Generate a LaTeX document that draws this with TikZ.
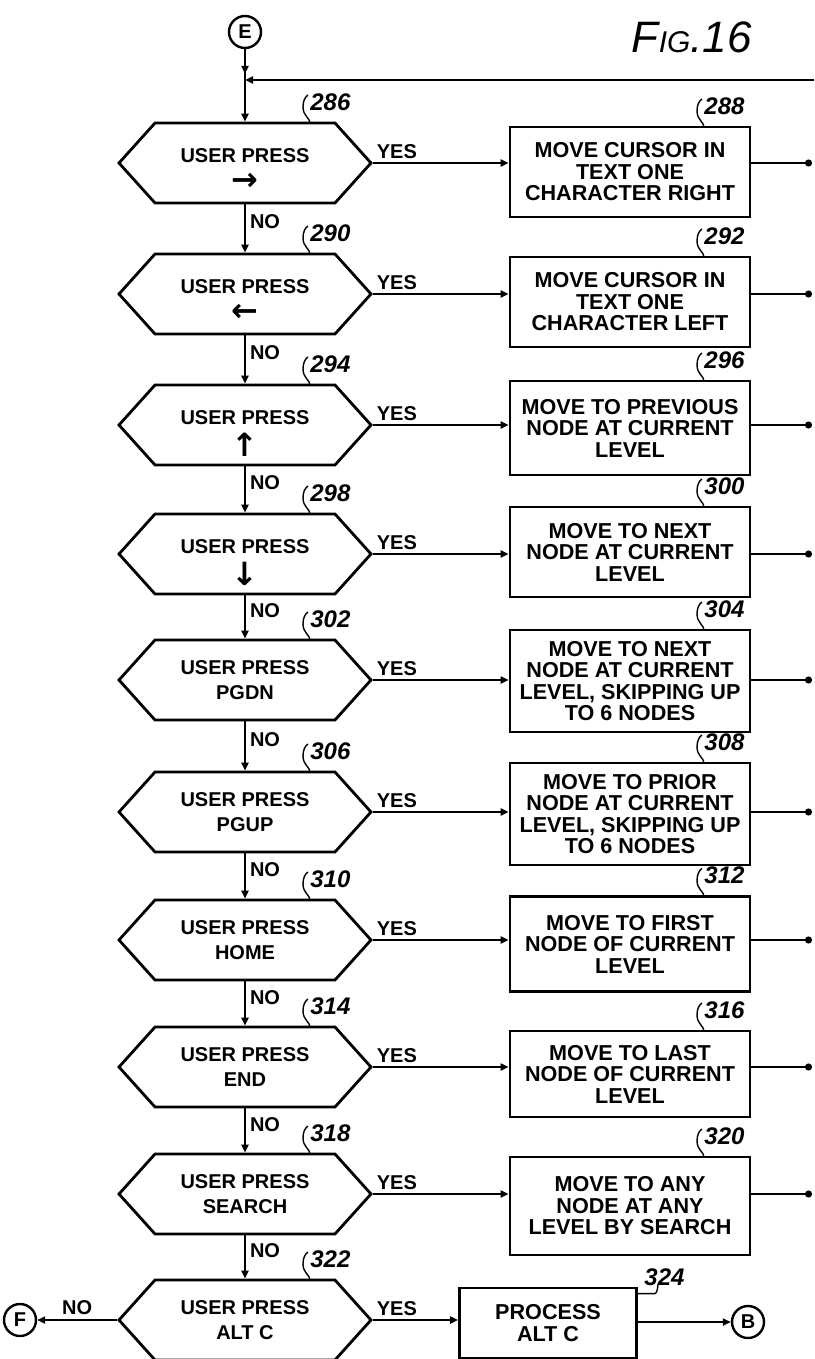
\documentclass[tikz,border=0pt]{standalone}
\usepackage{fontspec}
\setmainfont{Liberation Sans}
\newfontfamily\arrfont{DejaVu Sans}
\usetikzlibrary{shapes.symbols,arrows.meta,decorations.markings}

\def\hexx{245}
\def\boxx{630}
\def\outx{812}
\def\presskey#1#2{\raisebox{-5.5pt}{USER PRESS}\\\raisebox{#2}[4pt][0pt]{\arrfont\bfseries\fontsize{16}{16}\selectfont #1}}

\tikzset{
 decision/.style={signal, signal to=west and east, signal pointer angle=96,
  draw, line width=1.4pt, minimum width=126pt, minimum height=40pt,
  inner sep=0pt, align=center, font=\bfseries\fontsize{10}{12.5}\selectfont},
 action/.style={rectangle, draw, line width=1.4pt, minimum width=120pt,
  inner sep=0pt, align=center, font=\bfseries\fontsize{10.8}{10.75}\selectfont},
 connector/.style={circle, draw, line width=1.2pt, minimum size=16pt,
  inner sep=0pt, font=\bfseries\fontsize{10}{10}\selectfont},
 flow/.style={line width=1pt, -{Triangle[length=4pt,width=3.5pt]}},
 outflow/.style={line width=1pt, -{Circle[length=3.5pt]}},
 midarrow/.style={line width=1pt, postaction={decorate}, decoration={markings,
  mark=at position 0.8 with {\arrow{Triangle[length=4pt,width=3.5pt]}}}},
 leader/.style={line width=0.7pt},
 refnum/.style={font=\bfseries\itshape\fontsize{12}{12}\selectfont, inner sep=0pt, anchor=west},
 yeslabel/.style={font=\bfseries\fontsize{10}{10}\selectfont, inner sep=1.5pt, anchor=south west},
 nolabel/.style={font=\bfseries\fontsize{10}{10}\selectfont, inner sep=2pt, anchor=west, pos=0.36},
 figlabel/.style={font=\itshape\fontsize{22}{22}\selectfont, inner sep=0pt, anchor=base east}
}

\begin{document}
\begin{tikzpicture}[x=0.5pt,y=-0.5pt]
 \useasboundingbox (0,0) rectangle (814,1359);
 % figure title
 \node[figlabel] (fig) at (752,53) {F{\fontsize{15}{15}\selectfont IG}.16};
 % entry and return line
 \node[connector] (conE) at (\hexx,32) {E};
 \coordinate (join) at (\hexx,80);
 \coordinate (ret) at (814,80);
 \draw[flow] (ret) -- (join);
 \draw[midarrow] (conE) -- (join);
 % decisions and actions
 \foreach \y/\by/\bh/\hn/\bn/\htxt/\txt in {
  163/172/45/286/288/{\presskey{→}{-6.8pt}}/{MOVE CURSOR IN\\TEXT ONE\\CHARACTER RIGHT},
  294/302/45/290/292/{\presskey{←}{-6.8pt}}/{MOVE CURSOR IN\\TEXT ONE\\CHARACTER LEFT},
  425/428/47/294/296/{\presskey{↑}{-9pt}}/{MOVE TO PREVIOUS\\NODE AT CURRENT\\LEVEL},
  554/552/45/298/300/{\presskey{↓}{-9pt}}/{MOVE TO NEXT\\NODE AT CURRENT\\LEVEL},
  680/681/51/302/304/{USER PRESS\\PGDN}/{MOVE TO NEXT\\NODE AT CURRENT\\LEVEL, SKIPPING UP\\TO 6 NODES},
  812/814/51/306/308/{USER PRESS\\PGUP}/{MOVE TO PRIOR\\NODE AT CURRENT\\LEVEL, SKIPPING UP\\TO 6 NODES},
  940/944/47.5/310/312/{USER PRESS\\HOME}/{MOVE TO FIRST\\NODE OF CURRENT\\LEVEL},
  1067/1074/43/314/316/{USER PRESS\\END}/{MOVE TO LAST\\NODE OF CURRENT\\LEVEL},
  1194/1206/49/318/320/{USER PRESS\\SEARCH}/{MOVE TO ANY\\NODE AT ANY\\LEVEL BY SEARCH}} {
  \node[decision] (hex\hn) at (\hexx,\y) {\htxt};
  \node[action, minimum height=\bh pt] (box\bn) at (\boxx,\by) {\txt};
  \draw[flow] (hex\hn.east) -- node[yeslabel, pos=0] (yes\hn) {YES} (box\bn.west |- hex\hn.east);
  \coordinate (out\bn) at (\outx,\y);
  \draw[outflow] (box\bn.east |- hex\hn.east) -- (out\bn);
  % reference numerals
  \draw[leader] (310,\y-40) .. controls +(0,-5) and +(0,9) .. ++(-7,-16)
   .. controls +(0,-6) and +(-3,2) .. ++(5,-12);
  \node[refnum] (n\hn) at (310,\y-61) {\hn};
  \draw[leader] (704,\by-\bh) .. controls +(0,-5) and +(0,9) .. ++(-7,-16)
   .. controls +(0,-6) and +(-3,2) .. ++(5,-12);
  \node[refnum] (n\bn) at (704,\by-\bh-21) {\bn};
 }
 % last decision
 \node[decision] (hex322) at (\hexx,1320) {USER PRESS\\ALT C};
 \node[action, minimum width=88.5pt, minimum height=35pt] (box324) at (548,1323) {PROCESS\\ALT C};
 \node[connector] (conF) at (20,1320) {F};
 \node[connector] (conB) at (748,1322) {B};
 \draw[flow] (hex322.west) -- node[above, font=\bfseries\fontsize{10}{10}\selectfont, inner sep=2pt] (no322) {NO} (conF);
 \draw[flow] (hex322.east) -- node[yeslabel, pos=0] (yes322) {YES} (box324.west |- hex322.east);
 \draw[flow] (box324.east |- conB) -- (conB);
 \draw[leader] (310,1280) .. controls +(0,-5) and +(0,9) .. ++(-7,-16)
  .. controls +(0,-6) and +(-3,2) .. ++(5,-12);
 \node[refnum] (n322) at (310,1259) {322};
 \draw[leader] ([yshift=-3.5pt]box324.north east) -- ++(17,0) .. controls +(2,0) and +(0,3) .. ++(3,-9);
 \node[refnum] (n324) at (644,1277) {324};
 % NO branches
 \draw[flow] (join) -- (hex286.north);
 \foreach \a/\b in {286/290,290/294,294/298,298/302,302/306,306/310,310/314,314/318,318/322}
  \draw[flow] (hex\a.south) -- node[nolabel] (no\a) {NO} (hex\b.north);
\end{tikzpicture}
\end{document}
